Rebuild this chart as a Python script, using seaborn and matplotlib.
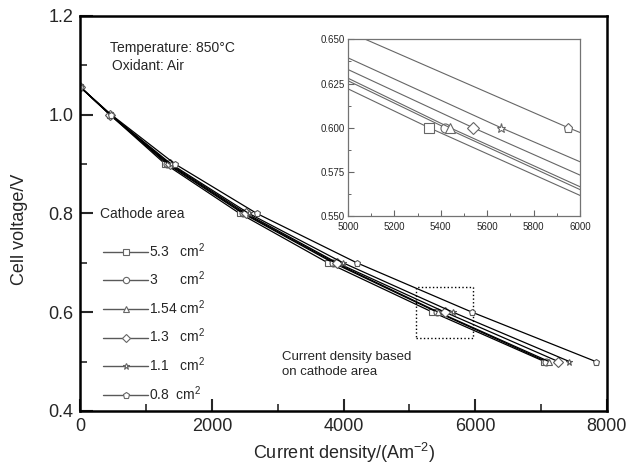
import numpy as np
import pandas as pd
import matplotlib
matplotlib.use('Agg')
import matplotlib.pyplot as plt
import seaborn as sns
from matplotlib.lines import Line2D
from matplotlib.patches import Rectangle
from matplotlib.ticker import MultipleLocator

sns.set_style('ticks')
plt.rcParams['font.family'] = ['Liberation Sans', 'DejaVu Sans']
plt.rcParams['mathtext.fontset'] = 'custom'
plt.rcParams['mathtext.rm'] = 'Liberation Sans'

# cell voltage at each marker (V)
voltage = [1.056, 1.0, 0.9, 0.8, 0.7, 0.6, 0.5]

# current density (A/m2), one list per cathode area
j_53 = [0, 450, 1290, 2420, 3760, 5350, 7050]
j_3 = [0, 450, 1320, 2470, 3840, 5420, 7080]
j_154 = [0, 455, 1340, 2490, 3870, 5440, 7120]
j_13 = [0, 455, 1360, 2520, 3900, 5540, 7260]
j_11 = [0, 460, 1380, 2560, 3990, 5660, 7430]
j_08 = [0, 470, 1440, 2680, 4200, 5950, 7830]

areas = ['5.3', '3', '1.54', '1.3', '1.1', '0.8']
labels = ['5.3   cm$^2$', '3      cm$^2$', '1.54 cm$^2$',
          '1.3   cm$^2$', '1.1   cm$^2$', '0.8  cm$^2$']
markers = ['s', 'o', '^', 'D', '*', 'p']

series = [j_53, j_3, j_154, j_13, j_11, j_08]
rows = []
for a, js in zip(areas, series):
    for j, v in zip(js, voltage):
        rows.append({'area': a, 'j': j, 'V': v})
df = pd.DataFrame(rows)
mk = dict(zip(areas, markers))

fig = plt.figure(figsize=(6.27, 4.68), dpi=100)
ax = fig.add_axes([0.128, 0.122, 0.840, 0.844])

sns.lineplot(data=df, x='j', y='V', style='area', style_order=areas,
             markers=mk, dashes=False, color='black', sort=False,
             estimator=None, legend=False, ax=ax,
             lw=0.9, ms=5, mfc='white', mec='0.35', mew=0.8)

ax.set_xlim(0, 8000)
ax.set_ylim(0.4, 1.2)
ax.xaxis.set_major_locator(MultipleLocator(2000))
ax.xaxis.set_minor_locator(MultipleLocator(1000))
ax.yaxis.set_major_locator(MultipleLocator(0.2))
ax.yaxis.set_minor_locator(MultipleLocator(0.1))
ax.yaxis.set_major_formatter(matplotlib.ticker.FormatStrFormatter('%.1f'))
ax.tick_params(which='major', direction='in', length=9, width=1.5,
               labelsize=13, pad=5)
ax.tick_params(which='minor', direction='in', length=5, width=1.2)
for s in ax.spines.values():
    s.set_linewidth(1.8)
    s.set_color('black')

ax.set_xlabel('Current density/(Am$^{-2}$)', fontsize=13, labelpad=4)
ax.set_ylabel('Cell voltage/V', fontsize=13, labelpad=13)
ax.yaxis.set_label_coords(-0.1, 0.46)

ax.text(0.056, 0.908, 'Temperature: 850\u00b0C', transform=ax.transAxes,
        fontsize=10)
ax.text(0.060, 0.863, 'Oxidant: Air', transform=ax.transAxes, fontsize=10)
ax.text(0.038, 0.488, 'Cathode area', transform=ax.transAxes, fontsize=10)
ax.text(0.383, 0.09, 'Current density based\non cathode area',
        transform=ax.transAxes, fontsize=9.5, linespacing=1.35)

# dotted box showing the zoomed region
ax.add_patch(Rectangle((5100, 0.547), 860, 0.104, fill=False, ls=':',
                       lw=1.0, ec='black'))

handles = [Line2D([0], [0], color='0.35', lw=1.0, marker=m, ms=4.5,
                  mfc='white', mec='0.4', mew=0.8) for m in markers]
ax.legend(handles, labels, loc='upper left', bbox_to_anchor=(0.044, 0.43),
          frameon=False, fontsize=10, handlelength=3.2, handletextpad=0.1,
          labelspacing=0.72, borderpad=0, borderaxespad=0)

# inset
ins = fig.add_axes([0.555, 0.538, 0.370, 0.378])
sns.lineplot(data=df, x='j', y='V', style='area', style_order=areas,
             markers=mk, dashes=False, color='0.4', sort=False,
             estimator=None, legend=False, ax=ins,
             lw=0.8, ms=6.5, mfc='white', mec='0.4', mew=0.8)
ins.set_xlim(5000, 6000)
ins.set_ylim(0.55, 0.65)
ins.xaxis.set_major_locator(MultipleLocator(200))
ins.xaxis.set_minor_locator(MultipleLocator(100))
ins.yaxis.set_major_locator(MultipleLocator(0.025))
ins.yaxis.set_minor_locator(MultipleLocator(0.0125))
ins.yaxis.set_major_formatter(matplotlib.ticker.FormatStrFormatter('%.3f'))
ins.tick_params(which='major', direction='in', length=4, width=0.8,
                labelsize=7, color='0.4', pad=2)
ins.tick_params(axis='x', pad=4)
ins.tick_params(which='minor', direction='in', length=2.5, width=0.7,
                color='0.4')
ins.set_xlabel('')
ins.set_ylabel('')
for s in ins.spines.values():
    s.set_linewidth(0.9)
    s.set_color('0.45')

fig.savefig('out.png', dpi=100)
